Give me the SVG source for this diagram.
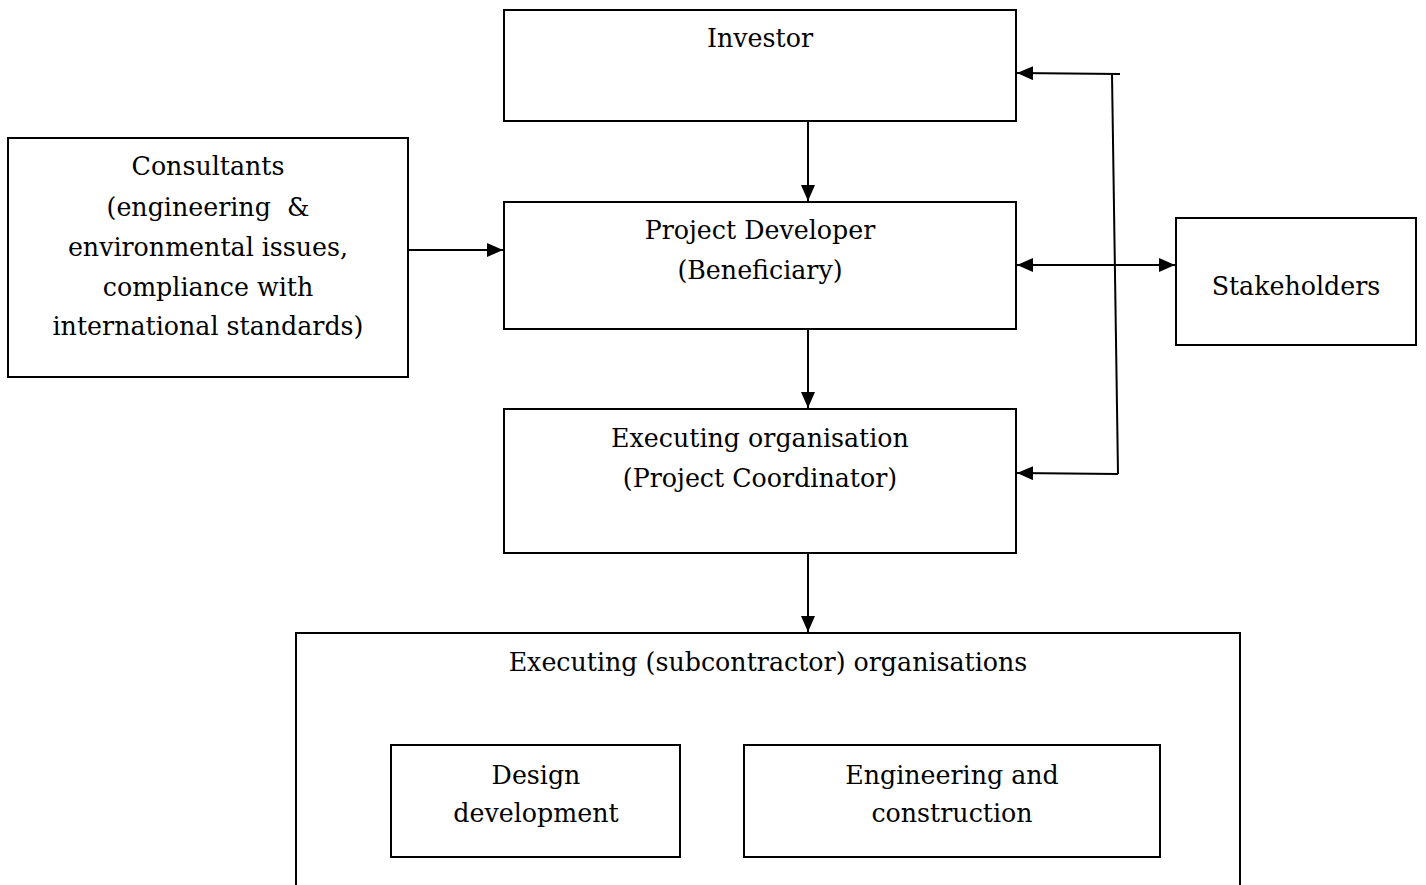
<svg xmlns="http://www.w3.org/2000/svg" width="1426" height="885" viewBox="0 0 1426 885">
<style>
.box{fill:#fff;stroke:#000;stroke-width:2}
.t{font-family:"DejaVu Serif","Liberation Serif",serif;font-size:25.3px;fill:#000;text-anchor:middle;white-space:pre}
.c{stroke:#000;stroke-width:2;fill:none}
</style>
<defs>
<marker id="ah" viewBox="0 0 16 14" refX="16" refY="7" markerWidth="16" markerHeight="14" markerUnits="userSpaceOnUse" orient="auto-start-reverse">
<path d="M0,0 L16,7 L0,14 Z" fill="#000"/>
</marker>
</defs>
<rect width="1426" height="885" fill="#fff"/>
<g id="investor"><rect class="box" x="504" y="10" width="512" height="111"/><text class="t" x="760" y="47">Investor</text></g>
<g id="developer"><rect class="box" x="504" y="202" width="512" height="127"/><text class="t" x="760" y="239">Project Developer</text><text class="t" x="760" y="279">(Beneficiary)</text></g>
<g id="executing"><rect class="box" x="504" y="409" width="512" height="144"/><text class="t" x="760" y="447">Executing organisation</text><text class="t" x="760" y="487">(Project Coordinator)</text></g>
<g id="consultants"><rect class="box" x="8" y="138" width="400" height="239"/><text class="t" x="208" y="175">Consultants</text><text class="t" x="208" y="216" xml:space="preserve">(engineering  &amp;</text><text class="t" x="208" y="256">environmental issues,</text><text class="t" x="208" y="296">compliance with</text><text class="t" x="208" y="335">international standards)</text></g>
<g id="stakeholders"><rect class="box" x="1176" y="218" width="240" height="127"/><text class="t" x="1296" y="295">Stakeholders</text></g>
<g id="subcontractors"><path class="c" d="M296,886 V633 H1240 V886"/><text class="t" x="768" y="671">Executing (subcontractor) organisations</text></g>
<g id="design"><rect class="box" x="391" y="745" width="289" height="112"/><text class="t" x="536" y="784">Design</text><text class="t" x="536" y="822">development</text></g>
<g id="engineering"><rect class="box" x="744" y="745" width="416" height="112"/><text class="t" x="952" y="784">Engineering and</text><text class="t" x="952" y="822">construction</text></g>
<g id="connectors">
<line class="c" x1="808" y1="121" x2="808" y2="201" marker-end="url(#ah)"/>
<line class="c" x1="808" y1="329" x2="808" y2="408" marker-end="url(#ah)"/>
<line class="c" x1="808" y1="553" x2="808" y2="632" marker-end="url(#ah)"/>
<line class="c" x1="408" y1="250" x2="503" y2="250" marker-end="url(#ah)"/>
<line class="c" x1="1017" y1="265" x2="1175" y2="265" marker-start="url(#ah)" marker-end="url(#ah)"/>
<line class="c" x1="1112" y1="74" x2="1118" y2="474"/>
<line class="c" x1="1120" y1="74" x2="1017" y2="73" marker-end="url(#ah)"/>
<line class="c" x1="1118" y1="474" x2="1017" y2="473" marker-end="url(#ah)"/>
</g>
</svg>
